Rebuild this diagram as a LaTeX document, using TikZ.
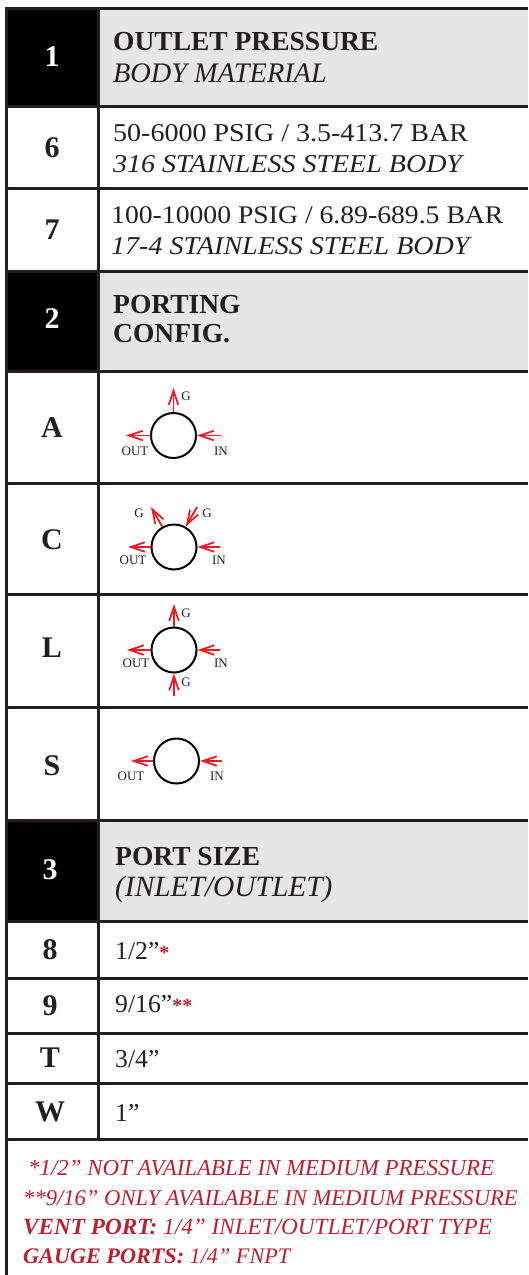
\documentclass[tikz,border=0pt]{standalone}
\usepackage{fontspec}
\setmainfont{Liberation Serif}
\newfontfamily\widefont[FakeStretch=1.09]{Liberation Serif}
\usetikzlibrary{arrows.meta}
\definecolor{ink}{HTML}{231F20}
\definecolor{hdr}{HTML}{E6E6E6}
\definecolor{arr}{HTML}{ED1C24}
\definecolor{note}{HTML}{BE1E2D}
\newcommand{\fs}[1]{\fontsize{#1}{#1}\selectfont}
\tikzset{
  rule/.style={draw=ink,line width=3pt},
  keycell/.style={font=\fs{30}\bfseries,text=ink,anchor=center,inner sep=0pt},
  keyblack/.style={font=\fs{30}\bfseries,text=white,anchor=center,inner sep=0pt},
  headbold/.style={font=\fs{27.5}\bfseries,text=ink,anchor=base west,inner sep=0pt},
  headital/.style={font=\fs{28.3}\itshape,text=ink,anchor=base west,inner sep=0pt},
  bodytext/.style={font=\widefont\fs{25.7},text=ink,anchor=base west,inner sep=0pt},
  bodyital/.style={font=\widefont\fs{25.7}\itshape,text=ink,anchor=base west,inner sep=0pt},
  sizetext/.style={font=\fs{25.7},text=ink,anchor=base west,inner sep=0pt},
  notetext/.style={font=\fs{22.9}\itshape,text=note,anchor=base west,inner sep=0pt},
  port/.style={circle,draw=black,line width=2pt,minimum size=45pt,inner sep=0pt},
  flow/.style={draw=arr,line width=1.8pt,-{Straight Barb[length=14pt,width=9.5pt,line width=1.8pt]}},
  tag/.style={font=\fs{13},text=ink,inner sep=0pt},
}
\newcommand{\stars}[1]{\textcolor{note}{\fs{20}\textbf{#1}}}
\begin{document}
\begin{tikzpicture}[x=1pt,y=-1pt]
\useasboundingbox (0,0) rectangle (528,1275);
% fills
\fill[black] (5,8) rectangle (99,106);
\fill[black] (5,271) rectangle (99,371);
\fill[black] (5,820) rectangle (99,921);
\fill[hdr] (99,8) rectangle (528,106);
\fill[hdr] (99,271) rectangle (528,371);
\fill[hdr] (99,820) rectangle (528,921);
% rules
\foreach \y in {8,106,188,271,371,483,594,707,820,921,978,1033,1083,1139}
  \draw[rule] (5,\y) -- (528,\y);
\draw[rule] (6.5,8) -- (6.5,1275);
\draw[rule] (98.5,8) -- (98.5,1139);
% key column
\node[keyblack] (k1) at (52,57) {1};
\node[keycell] (k6) at (52,148) {6};
\node[keycell] (k7) at (52,230) {7};
\node[keyblack] (k2) at (52,319) {2};
\node[keycell] (kA) at (52,428) {A};
\node[keycell] (kC) at (52,540) {C};
\node[keycell] (kL) at (52,648) {L};
\node[keycell] (kS) at (52,766) {S};
\node[keyblack] (k3) at (50,870) {3};
\node[keycell] (k8) at (50,950) {8};
\node[keycell] (k9) at (50,1006) {9};
\node[keycell] (kT) at (50,1058) {T};
\node[keycell] (kW) at (50,1112) {W};
% text
\node[headbold] (t1a) at (113,50) {OUTLET PRESSURE};
\node[headital] (t1b) at (113,82) {BODY MATERIAL};
\node[bodytext] (t6a) at (113,141) {50-6000 PSIG / 3.5-413.7 BAR};
\node[bodyital] (t6b) at (113,172) {316 STAINLESS STEEL BODY};
\node[bodytext,font=\widefont\fs{25.4}] (t7a) at (111,223) {100-10000 PSIG / 6.89-689.5 BAR};
\node[bodyital] (t7b) at (111,254) {17-4 STAINLESS STEEL BODY};
\node[headbold] (t2a) at (113,313) {PORTING};
\node[headbold] (t2b) at (113,342) {CONFIG.};
\node[headbold] (t3a) at (115,865) {PORT SIZE};
\node[headital,font=\fs{29.4}\itshape] (t3b) at (115,896) {(INLET/OUTLET)};
\node[sizetext] (t8) at (115,959) {1/2”\stars{*}};
\node[sizetext] (t9) at (115,1012) {9/16”\stars{**}};
\node[sizetext] (tT) at (115,1067) {3/4”};
\node[sizetext] (tW) at (115,1121) {1”};
% notes
\node[notetext] (n1) at (28,1175) {*1/2” NOT AVAILABLE IN MEDIUM PRESSURE};
\node[notetext,font=\fs{22.6}\itshape] (n2) at (23,1205) {**9/16” ONLY AVAILABLE IN MEDIUM PRESSURE};
\node[notetext,font=\fs{23.2}\itshape] (n3) at (23,1234) {\textbf{VENT PORT:} 1/4” INLET/OUTLET/PORT TYPE};
\node[notetext,font=\fs{22.2}\itshape] (n4) at (23,1263) {\textbf{GAUGE PORTS:} 1/4” FNPT};
% A
\node[port] (pA) at (173.5,435.5) {};
\coordinate (aG) at (173.5,388);
\coordinate (aO) at (126,435.5);
\coordinate (aI) at (221,435.5);
\draw[flow] (pA.north) -- (aG);
\draw[flow] (pA.west) -- (aO);
\draw[flow] (aI) -- (pA.east);
\node[tag] (aGt) at (186,396) {G};
\node[tag] (aOt) at (135,451) {OUT};
\node[tag] (aIt) at (221,451) {IN};
% C
\node[port] (pC) at (174,547) {};
\coordinate (cG1) at (151,507);
\coordinate (cG2) at (197,507);
\coordinate (cO) at (128,547);
\coordinate (cI) at (220,547);
\draw[flow] (pC.120) -- (cG1);
\draw[flow] (cG2) -- (pC.60);
\draw[flow] (pC.west) -- (cO);
\draw[flow] (cI) -- (pC.east);
\node[tag] (cG1t) at (139,513) {G};
\node[tag] (cG2t) at (207,513) {G};
\node[tag] (cOt) at (133,560) {OUT};
\node[tag] (cIt) at (219,560) {IN};
% L
\node[port] (pL) at (174,650) {};
\coordinate (lG1) at (174,604);
\coordinate (lG2) at (174,696);
\coordinate (lO) at (127,650);
\coordinate (lI) at (220,650);
\draw[flow] (pL.north) -- (lG1);
\draw[flow] (lG2) -- (pL.south);
\draw[flow] (pL.west) -- (lO);
\draw[flow] (lI) -- (pL.east);
\node[tag] (lG1t) at (186,613) {G};
\node[tag] (lG2t) at (186,682) {G};
\node[tag] (lOt) at (136,663) {OUT};
\node[tag] (lIt) at (221,663) {IN};
% S
\node[port] (pS) at (176.5,761) {};
\coordinate (sO) at (131,761);
\coordinate (sI) at (222,761);
\draw[flow] (pS.west) -- (sO);
\draw[flow] (sI) -- (pS.east);
\node[tag] (sOt) at (131,776) {OUT};
\node[tag] (sIt) at (217,776) {IN};
\end{tikzpicture}
\end{document}
